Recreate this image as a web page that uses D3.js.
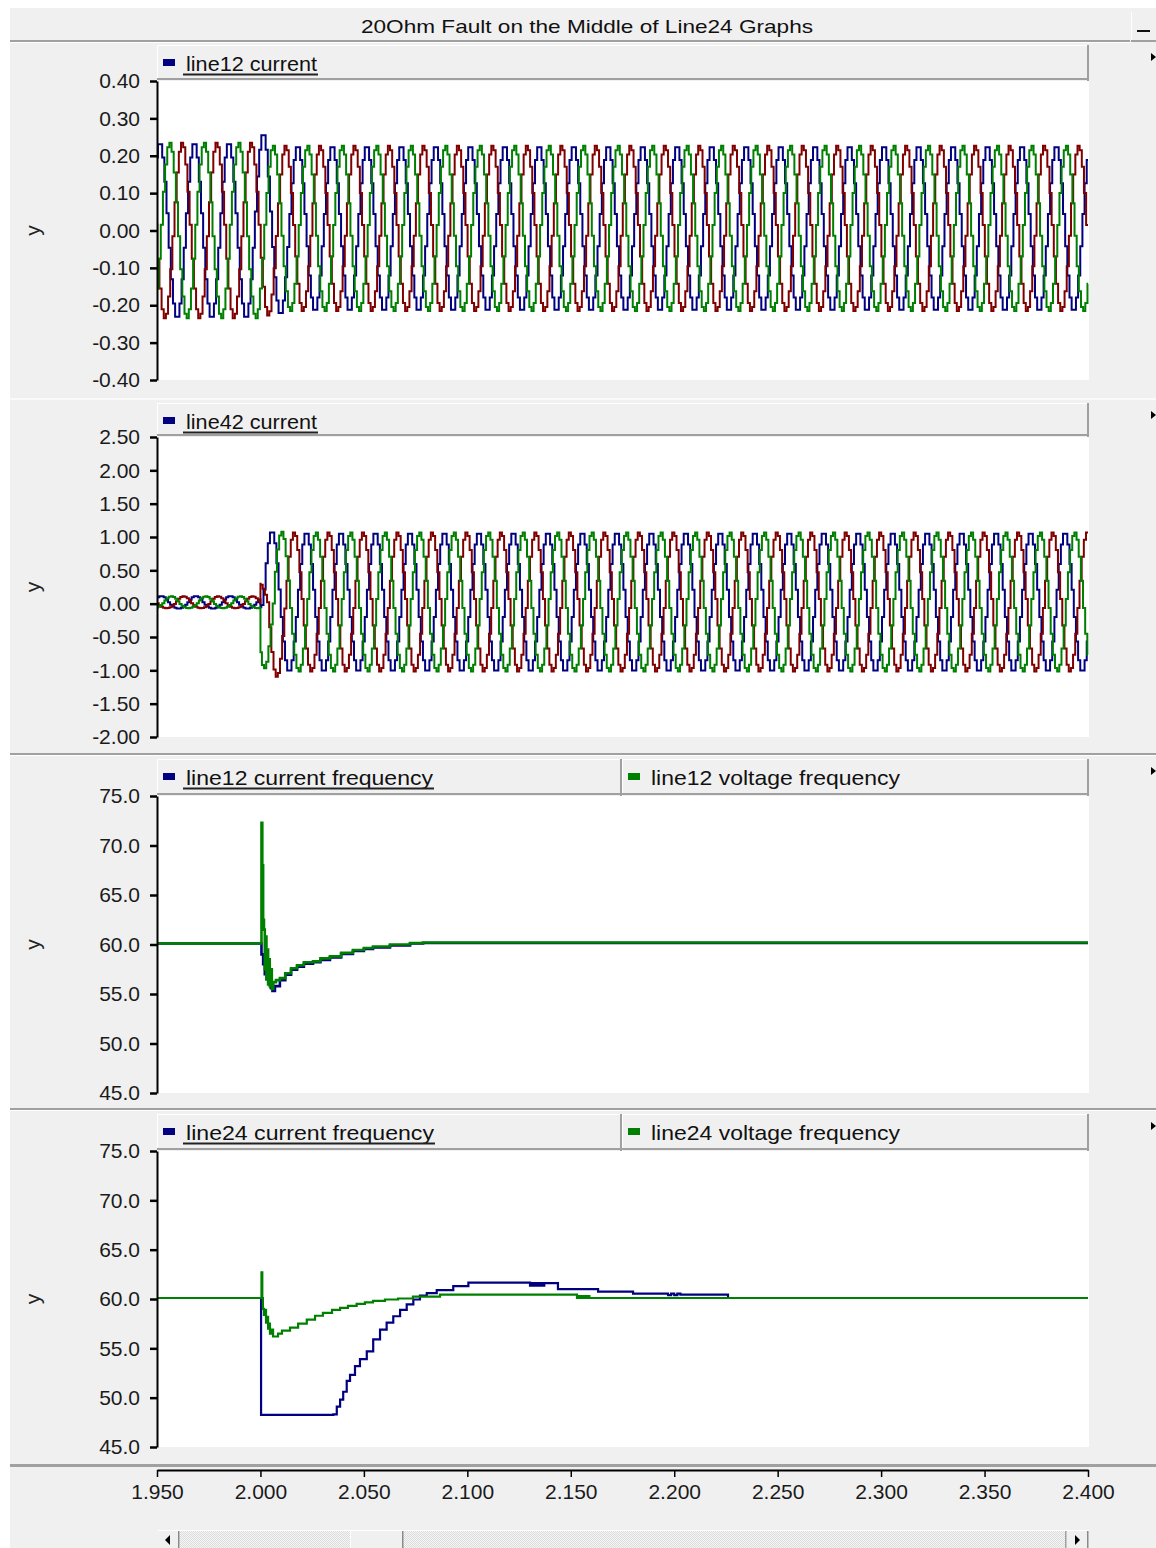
<!DOCTYPE html>
<html><head><meta charset="utf-8">
<script src="https://cdn.jsdelivr.net/npm/d3@7"></script>
<style>
html,body{margin:0;padding:0;background:#fff;}
svg{display:block;}
text{font-family:"Liberation Sans",Arial,sans-serif;}
</style></head><body>
<svg id="chart" width="1156" height="1548"></svg>
<script>
// ================= DATA =================
const titleText = "20Ohm Fault on the Middle of Line24 Graphs";
const timeDomain = [1.95, 2.40];
const timeTicks = [1.95, 2.00, 2.05, 2.10, 2.15, 2.20, 2.25, 2.30, 2.35, 2.40];
const faultTime = 2.0;

const ticksLine12 = [0.40, 0.30, 0.20, 0.10, 0.00, -0.10, -0.20, -0.30, -0.40];
const ticksLine42 = [2.50, 2.00, 1.50, 1.00, 0.50, 0.00, -0.50, -1.00, -1.50, -2.00];
const ticksFreq = [75.0, 70.0, 65.0, 60.0, 55.0, 50.0, 45.0];

const legendLine12 = ["line12 current"];
const legendLine42 = ["line42 current"];
const legendFreq12 = ["line12 current  frequency", "line12 voltage frequency"];
const legendFreq24 = ["line24 current  frequency", "line24 voltage frequency"];

// Sampled waveform: sample levels over one cycle (fraction of the half-cycle peak),
// starting at the rising zero crossing; 16 samples per cycle at 60 Hz.
// The three phases fall on different points of the common sample grid.
const blueCycleLevels  = [0.195, 0.556, 0.831, 0.981, 0.981, 0.831, 0.556, 0.195, -0.195, -0.556, -0.831, -0.981, -0.981, -0.831, -0.556, -0.195];
const redCycleLevels   = [0.321, 0.659, 0.897, 0.998, 0.947, 0.752, 0.442, 0.065, -0.321, -0.659, -0.897, -0.998, -0.947, -0.752, -0.442, -0.065];
const greenCycleLevels = [0.442, 0.752, 0.947, 0.998, 0.897, 0.659, 0.321, -0.065, -0.442, -0.752, -0.947, -0.998, -0.897, -0.659, -0.321, 0.065];
const cyclePeriod = 1 / 60;

// line12 current: phases [blue, red, green], rising zero crossing of first listed cycle
const line12Start = [1.9473, 1.9418, 1.9362];
// per-cycle positive peak (hi) and negative peak (lo)
const line12BlueHi = [0.235,0.235,0.235,0.26, 0.227,0.227,0.227,0.227,0.227,0.227,0.227,0.227, 0.227,0.227,0.227,0.227,0.227,0.227,0.227,0.227, 0.227,0.227,0.227,0.227,0.227,0.227,0.227,0.227];
const line12BlueLo = [-0.235,-0.235,-0.235,-0.225, -0.216,-0.216,-0.216,-0.216,-0.216,-0.216,-0.216,-0.216, -0.216,-0.216,-0.216,-0.216,-0.216,-0.216,-0.216,-0.216, -0.216,-0.216,-0.216,-0.216,-0.216,-0.216,-0.216,-0.216];
const line12RedHi = [0.235,0.235,0.235,0.235, 0.227,0.227,0.227,0.227,0.227,0.227,0.227,0.227, 0.227,0.227,0.227,0.227,0.227,0.227,0.227,0.227, 0.227,0.227,0.227,0.227,0.227,0.227,0.227,0.227];
const line12RedLo = [-0.235,-0.235,-0.235,-0.228, -0.216,-0.216,-0.216,-0.216,-0.216,-0.216,-0.216,-0.216, -0.216,-0.216,-0.216,-0.216,-0.216,-0.216,-0.216,-0.216, -0.216,-0.216,-0.216,-0.216,-0.216,-0.216,-0.216,-0.216];
const line12GreenHi = [0.235,0.235,0.235,0.235, 0.227,0.227,0.227,0.227,0.227,0.227,0.227,0.227, 0.227,0.227,0.227,0.227,0.227,0.227,0.227,0.227, 0.227,0.227,0.227,0.227,0.227,0.227,0.227,0.227];
const line12GreenLo = [-0.235,-0.235,-0.235,-0.235, -0.216,-0.216,-0.216,-0.216,-0.216,-0.216,-0.216,-0.216, -0.216,-0.216,-0.216,-0.216,-0.216,-0.216,-0.216,-0.216, -0.216,-0.216,-0.216,-0.216,-0.216,-0.216,-0.216,-0.216];

// line42 current, before the fault
const line42PreStart = [1.9480, 1.9425, 1.9369];
const line42PreBlueHi = [0.115,0.115,0.115,0.115];
const line42PreBlueLo = [-0.075,-0.075,-0.075,-0.075];
const line42PreRedHi = [0.11,0.11,0.11,0.11];
const line42PreRedLo = [-0.07,-0.07,-0.07,-0.07];
const line42PreGreenHi = [0.11,0.11,0.11,0.11];
const line42PreGreenLo = [-0.07,-0.07,-0.07,-0.07];
// line42 current, after the fault
const line42PostStart = [1.9848, 1.9959, 1.9903];
const line42PostBlueHi = [0.05,1.09, 1.07,1.07,1.07,1.07,1.07,1.07,1.07,1.07, 1.07,1.07,1.07,1.07,1.07,1.07,1.07,1.07, 1.07,1.07,1.07,1.07,1.07,1.07,1.07];
const line42PostBlueLo = [-0.1, -1.02,-1.02,-1.02,-1.02,-1.02,-1.02,-1.02,-1.02, -1.02,-1.02,-1.02,-1.02,-1.02,-1.02,-1.02,-1.02, -1.02,-1.02,-1.02,-1.02,-1.02,-1.02,-1.02,-1.02];
const line42PostRedHi = [0.3, 1.07,1.07,1.07,1.07,1.07,1.07,1.07,1.07, 1.07,1.07,1.07,1.07,1.07,1.07,1.07,1.07, 1.07,1.07,1.07,1.07,1.07,1.07,1.07,1.07];
const line42PostRedLo = [-1.1, -1.02,-1.02,-1.02,-1.02,-1.02,-1.02,-1.02,-1.02, -1.02,-1.02,-1.02,-1.02,-1.02,-1.02,-1.02,-1.02, -1.02,-1.02,-1.02,-1.02,-1.02,-1.02,-1.02,-1.02];
const line42PostGreenHi = [0.05,1.08, 1.07,1.07,1.07,1.07,1.07,1.07,1.07,1.07, 1.07,1.07,1.07,1.07,1.07,1.07,1.07,1.07, 1.07,1.07,1.07,1.07,1.07,1.07,1.07];
const line42PostGreenLo = [-0.97, -1.02,-1.02,-1.02,-1.02,-1.02,-1.02,-1.02,-1.02, -1.02,-1.02,-1.02,-1.02,-1.02,-1.02,-1.02,-1.02, -1.02,-1.02,-1.02,-1.02,-1.02,-1.02,-1.02,-1.02];

// line12 frequencies
const f12CurT = [1.95, 2.0005, 2.0013, 2.0021, 2.0030, 2.0040, 2.0050, 2.0058, 2.0070, 2.0094, 2.0120, 2.0148, 2.0177, 2.0210, 2.0254, 2.0290, 2.0336, 2.0390, 2.0447, 2.0500, 2.0544, 2.0626, 2.0723, 2.0786, 2.40];
const f12CurV = [60.1, 59.0, 58.0, 57.0, 56.5, 56.0, 55.6, 55.3, 55.8, 56.4, 56.95, 57.45, 57.75, 58.05, 58.2, 58.45, 58.7, 59.05, 59.35, 59.55, 59.7, 59.9, 60.1, 60.15, 60.15];
const f12VolT = [1.95, 2.0005, 2.0009, 2.0013, 2.0017, 2.0021, 2.0025, 2.0029, 2.0033, 2.0037, 2.0041, 2.0045, 2.0050, 2.0055, 2.0062, 2.0075, 2.0094, 2.0120, 2.0148, 2.0177, 2.0210, 2.0254, 2.0290, 2.0336, 2.0390, 2.0447, 2.0500, 2.0544, 2.0626, 2.0723, 2.0786, 2.40];
const f12VolV = [60.1, 72.3, 68.0, 62.5, 61.5, 57.5, 60.8, 56.5, 59.5, 56.0, 58.5, 55.8, 57.5, 55.5, 56.2, 56.4, 56.6, 57.1, 57.6, 57.9, 58.2, 58.3, 58.6, 58.8, 59.15, 59.45, 59.65, 59.8, 60.0, 60.15, 60.2, 60.2];

// line24 frequencies
const f24CurT = [1.95, 2.0003, 2.0352, 2.0369, 2.0385, 2.0400, 2.0417, 2.0433, 2.0457, 2.0481, 2.0514, 2.0545, 2.0578, 2.0610, 2.0642, 2.0675, 2.0707, 2.0739, 2.0771, 2.0804, 2.0852, 2.0932, 2.1005, 2.1303, 2.1312, 2.1322, 2.1332, 2.1342, 2.1352, 2.1362, 2.1372, 2.1438, 2.1632, 2.1801, 2.1970, 2.1985, 2.2000, 2.2015, 2.2030, 2.2260, 2.40];
const f24CurV = [60.1, 48.25, 48.3, 49.1, 49.8, 50.6, 51.7, 52.3, 53.2, 53.9, 54.7, 55.9, 56.9, 57.6, 58.25, 58.9, 59.45, 59.95, 60.35, 60.6, 60.9, 61.3, 61.65, 61.35, 61.6, 61.35, 61.6, 61.35, 61.6, 61.35, 61.6, 61.0, 60.75, 60.55, 60.4, 60.55, 60.4, 60.55, 60.45, 60.1, 60.1];
const f24VolT = [1.95, 2.0005, 2.0009, 2.0012, 2.0017, 2.0022, 2.0027, 2.0032, 2.0037, 2.0041, 2.0046, 2.0056, 2.0061, 2.0070, 2.0085, 2.0104, 2.0143, 2.0182, 2.0224, 2.0264, 2.0302, 2.0346, 2.0385, 2.0423, 2.0465, 2.0505, 2.0544, 2.0602, 2.0665, 2.0737, 2.0868, 2.1530, 2.1540, 2.1550, 2.1560, 2.1570, 2.1580, 2.1590, 2.1600, 2.40];
const f24VolV = [60.1, 62.7, 60.1, 59.0, 58.4, 58.9, 57.6, 58.2, 57.0, 57.5, 56.5, 56.9, 56.2, 56.2, 56.5, 56.8, 57.1, 57.5, 57.9, 58.3, 58.6, 58.9, 59.1, 59.3, 59.5, 59.65, 59.8, 59.95, 60.05, 60.25, 60.45, 60.1, 60.3, 60.1, 60.3, 60.1, 60.3, 60.1, 60.1, 60.1];

// ================= STYLE / LAYOUT =================
const C_BLUE = "#000080", C_RED = "#800000", C_GREEN = "#008000";
const BG = "#f0f0f0";
const X0 = 157, X1 = 1088, PLOT_R = 1089;
const FONT = '"Liberation Sans",Arial,sans-serif';
const hy = f => d => f(d).replace("\u2212", "-");

const svg = d3.select("#chart");
const defs = svg.append("defs");
const pat = defs.append("pattern").attr("id", "dither").attr("width", 2).attr("height", 2).attr("patternUnits", "userSpaceOnUse");
pat.append("rect").attr("width", 2).attr("height", 2).attr("fill", "#f6f6f6");
pat.append("rect").attr("width", 1).attr("height", 1).attr("fill", "#dcdcdc");
pat.append("rect").attr("x", 1).attr("y", 1).attr("width", 1).attr("height", 1).attr("fill", "#dcdcdc");

svg.append("rect").attr("width", 1156).attr("height", 1548).attr("fill", "#fff");
svg.append("rect").attr("x", 10).attr("y", 8).attr("width", 1146).attr("height", 1540).attr("fill", BG);

const x = d3.scaleLinear().domain(timeDomain).range([X0, X1]);

// ---- title bar ----
svg.append("text").attr("x", 361).attr("y", 33).attr("font-size", 19).attr("fill", "#111")
  .attr("textLength", 452).attr("lengthAdjust", "spacingAndGlyphs").text(titleText);
svg.append("rect").attr("x", 10).attr("y", 40).attr("width", 1120).attr("height", 2).attr("fill", "#a0a0a0");
svg.append("rect").attr("x", 10).attr("y", 42).attr("width", 1120).attr("height", 1).attr("fill", "#fff");
svg.append("rect").attr("x", 1131).attr("y", 12).attr("width", 25).attr("height", 30).attr("fill", BG);
svg.append("rect").attr("x", 1131).attr("y", 12).attr("width", 1).attr("height", 30).attr("fill", "#fff");
svg.append("rect").attr("x", 1131).attr("y", 40).attr("width", 25).attr("height", 2).attr("fill", "#a0a0a0");
svg.append("rect").attr("x", 1137).attr("y", 30).attr("width", 13).attr("height", 2).attr("fill", "#111");

// ---- helpers ----
function wavePoints(levels, start, hi, lo) {
  const n = levels.length, pts = [];
  hi.forEach((h, k) => levels.forEach((s, i) => {
    pts.push({ t: start + (k + i / n) * cyclePeriod, v: s >= 0 ? s * h : -s * lo[k] });
  }));
  return pts;
}
function segment(pts, t0, t1) {
  const before = pts.filter(p => p.t <= t0);
  const active = before.length ? before[before.length - 1] : pts[0];
  const out = [{ t: t0, v: active.v }];
  pts.forEach(p => { if (p.t > t0 && p.t < t1) out.push(p); });
  out.push({ t: t1, v: out[out.length - 1].v });
  return out;
}
function zipTV(T, V) { return T.map((t, i) => ({ t, v: V[i] })); }
const T0 = timeDomain[0], T1 = timeDomain[1];

const panels = [
  { legendTop: 45, plotTop: 81, plotBottom: 380, domain: [-0.4, 0.4], ticks: ticksLine12, fmt: hy(d3.format(".2f")),
    legend: legendLine12, legendW: [131], colors: [C_BLUE],
    series: [
      { c: C_BLUE, pts: segment(wavePoints(blueCycleLevels, line12Start[0], line12BlueHi, line12BlueLo), T0, T1) },
      { c: C_RED, pts: segment(wavePoints(redCycleLevels, line12Start[1], line12RedHi, line12RedLo), T0, T1) },
      { c: C_GREEN, pts: segment(wavePoints(greenCycleLevels, line12Start[2], line12GreenHi, line12GreenLo), T0, T1) }
    ], w: 2 },
  { legendTop: 403, plotTop: 437, plotBottom: 737, domain: [-2.0, 2.5], ticks: ticksLine42, fmt: hy(d3.format(".2f")),
    legend: legendLine42, legendW: [131], colors: [C_BLUE],
    series: [
      { c: C_BLUE, pts: segment(wavePoints(blueCycleLevels, line42PreStart[0], line42PreBlueHi, line42PreBlueLo), T0, faultTime)
          .concat(segment(wavePoints(blueCycleLevels, line42PostStart[0], line42PostBlueHi, line42PostBlueLo), faultTime, T1)) },
      { c: C_RED, pts: segment(wavePoints(redCycleLevels, line42PreStart[1], line42PreRedHi, line42PreRedLo), T0, faultTime)
          .concat(segment(wavePoints(redCycleLevels, line42PostStart[1], line42PostRedHi, line42PostRedLo), faultTime, T1)) },
      { c: C_GREEN, pts: segment(wavePoints(greenCycleLevels, line42PreStart[2], line42PreGreenHi, line42PreGreenLo), T0, faultTime)
          .concat(segment(wavePoints(greenCycleLevels, line42PostStart[2], line42PostGreenHi, line42PostGreenLo), faultTime, T1)) }
    ], w: 2 },
  { legendTop: 759, plotTop: 796, plotBottom: 1093, domain: [45, 75], ticks: ticksFreq, fmt: d3.format(".1f"),
    legend: legendFreq12, legendW: [247, 249], colors: [C_BLUE, C_GREEN],
    series: [
      { c: C_BLUE, pts: zipTV(f12CurT, f12CurV) },
      { c: C_GREEN, pts: zipTV(f12VolT, f12VolV) }
    ], w: 2.6 },
  { legendTop: 1114, plotTop: 1151, plotBottom: 1447, domain: [45, 75], ticks: ticksFreq, fmt: d3.format(".1f"),
    legend: legendFreq24, legendW: [248, 249], colors: [C_BLUE, C_GREEN],
    series: [
      { c: C_BLUE, pts: zipTV(f24CurT, f24CurV) },
      { c: C_GREEN, pts: zipTV(f24VolT, f24VolV) }
    ], w: 2.2 }
];

// ---- separators ----
svg.append("rect").attr("x", 10).attr("y", 398).attr("width", 1146).attr("height", 2).attr("fill", "#fafafa");
[753, 1108].forEach(yy => {
  svg.append("rect").attr("x", 10).attr("y", yy).attr("width", 1146).attr("height", 2).attr("fill", "#a0a0a0");
  svg.append("rect").attr("x", 10).attr("y", yy + 2).attr("width", 1146).attr("height", 1).attr("fill", "#fff");
});
svg.append("rect").attr("x", 10).attr("y", 1464).attr("width", 1146).attr("height", 3).attr("fill", "#a0a0a0");

panels.forEach((p, pi) => {
  const g = svg.append("g");
  const y = d3.scaleLinear().domain(p.domain).range([p.plotBottom, p.plotTop]);

  g.append("rect").attr("x", X0).attr("y", p.plotTop - 1).attr("width", PLOT_R - X0).attr("height", p.plotBottom - p.plotTop + 1).attr("fill", "#fff");

  const cells = p.legend.length === 1 ? [[X0, PLOT_R]] : [[X0, 622], [622, PLOT_R]];
  const lt = p.legendTop, lh = p.plotTop - p.legendTop;
  cells.forEach((cx, ci) => {
    g.append("rect").attr("x", cx[0]).attr("y", lt).attr("width", cx[1] - cx[0]).attr("height", lh).attr("fill", BG);
    g.append("rect").attr("x", cx[0]).attr("y", lt).attr("width", cx[1] - cx[0]).attr("height", 1).attr("fill", "#fff");
    g.append("rect").attr("x", cx[0]).attr("y", lt).attr("width", 1).attr("height", lh).attr("fill", "#fff");
    g.append("rect").attr("x", cx[1] - 2).attr("y", lt).attr("width", 2).attr("height", lh).attr("fill", "#a0a0a0");
    g.append("rect").attr("x", cx[0]).attr("y", p.plotTop - 3).attr("width", cx[1] - cx[0]).attr("height", 2).attr("fill", "#a0a0a0");
    g.append("rect").attr("x", cx[0] + 6).attr("y", lt + 14).attr("width", 12).attr("height", 7).attr("fill", p.colors[ci]);
    g.append("text").attr("x", cx[0] + 29).attr("y", lt + 26).attr("font-size", 21).attr("fill", "#111")
      .attr("textLength", p.legendW[ci]).attr("lengthAdjust", "spacingAndGlyphs").text(p.legend[ci]);
    if (ci === 0) {
      g.append("line").attr("x1", cx[0] + 26).attr("x2", cx[0] + 29 + p.legendW[ci] + 1)
        .attr("y1", lt + 29.5).attr("y2", lt + 29.5).attr("stroke", "#222").attr("stroke-width", 2);
    }
  });

  g.append("polygon").attr("points", `1151,${lt + 8} 1156,${lt + 12} 1151,${lt + 16}`).attr("fill", "#000");

  const cid = "clip" + pi;
  defs.append("clipPath").attr("id", cid).append("rect")
    .attr("x", X0).attr("y", p.plotTop - 1).attr("width", PLOT_R - X0).attr("height", p.plotBottom - p.plotTop + 2);

  const line = d3.line().x(d => x(d.t)).y(d => y(d.v)).curve(d3.curveStepAfter);
  const lg = g.append("g").attr("clip-path", `url(#${cid})`);
  p.series.forEach(s => {
    lg.append("path").attr("d", line(s.pts)).attr("fill", "none").attr("stroke", s.c).attr("stroke-width", p.w);
  });

  const ax = g.append("g").attr("transform", `translate(${X0},0)`)
    .call(d3.axisLeft(y).tickValues(p.ticks).tickFormat(p.fmt).tickSize(7).tickSizeOuter(0).tickPadding(10));
  ax.select(".domain").attr("stroke", "#000").attr("stroke-width", 2);
  ax.selectAll(".tick line").attr("stroke", "#000").attr("stroke-width", 2.5);
  ax.selectAll(".tick text").attr("font-size", 21).attr("fill", "#1a1a1a").attr("font-family", FONT);

  const cy = (p.plotTop + p.plotBottom) / 2;
  g.append("text").attr("transform", `translate(40,${cy}) rotate(-90)`).attr("text-anchor", "middle")
    .attr("font-size", 21).attr("fill", "#222").text("y");
});

// ---- x axis ----
const xa = svg.append("g").attr("transform", "translate(0,1470)")
  .call(d3.axisBottom(x).tickValues(timeTicks).tickFormat(d3.format(".3f")).tickSize(7).tickSizeOuter(0).tickPadding(7));
xa.select(".domain").attr("stroke", "#000").attr("stroke-width", 2);
xa.selectAll(".tick line").attr("stroke", "#000").attr("stroke-width", 1.5);
xa.selectAll(".tick text").attr("font-size", 21).attr("fill", "#1a1a1a").attr("font-family", FONT);

// ---- scrollbar ----
svg.append("rect").attr("x", 158).attr("y", 1530).attr("width", 931).attr("height", 18).attr("fill", BG);
svg.append("rect").attr("x", 158).attr("y", 1530).attr("width", 931).attr("height", 1).attr("fill", "#fff");
svg.append("rect").attr("x", 180).attr("y", 1531).attr("width", 885).attr("height", 17).attr("fill", "url(#dither)");
svg.append("rect").attr("x", 350).attr("y", 1531).attr("width", 53).attr("height", 17).attr("fill", BG);
svg.append("rect").attr("x", 350).attr("y", 1531).attr("width", 1).attr("height", 17).attr("fill", "#fff");
svg.append("rect").attr("x", 402).attr("y", 1531).attr("width", 1.5).attr("height", 17).attr("fill", "#8a8a8a");
svg.append("rect").attr("x", 178).attr("y", 1531).attr("width", 1.5).attr("height", 17).attr("fill", "#8a8a8a");
svg.append("rect").attr("x", 1065).attr("y", 1531).attr("width", 1.5).attr("height", 17).attr("fill", "#a0a0a0");
svg.append("rect").attr("x", 1087).attr("y", 1531).attr("width", 1.5).attr("height", 17).attr("fill", "#8a8a8a");
svg.append("polygon").attr("points", "170,1535 165,1540 170,1545").attr("fill", "#000");
svg.append("polygon").attr("points", "1075,1535 1080,1540 1075,1545").attr("fill", "#000");
</script>
</body></html>
